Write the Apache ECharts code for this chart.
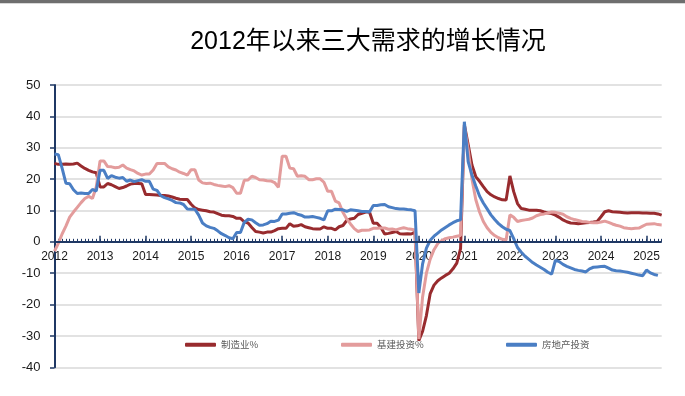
<!DOCTYPE html>
<html>
<head>
<meta charset="utf-8">
<script src="https://cdn.jsdelivr.net/npm/echarts@6/dist/echarts.min.js"></script>
<style>
html,body{margin:0;padding:0;background:#fff;}
#c{width:685px;height:396px;}
</style>
</head>
<body>
<div id="c"></div>
<script>
// Month categories Jan 2012 .. May 2025
const years = [2012,2013,2014,2015,2016,2017,2018,2019,2020,2021,2022,2023,2024,2025];
const months = [];
years.forEach(function(y){ for (let m = 1; m <= 12; m++) { if (y === 2025 && m > 5) break; months.push(y + '-' + (m < 10 ? '0' + m : m)); } });

const seriesNames = ['制造业%', '基建投资%', '房地产投资'];

// 制造业%
const manufacturing = [
  25.0, 24.7, 24.7, 24.8, 24.7, 24.8, 25.1, 24.2, 23.4, 22.8, 22.3, 22.0,
  17.5, 17.5, 18.6, 18.2, 17.6, 17.0, 17.3, 17.8, 18.4, 18.6, 18.6, 18.5,
  15.1, 15.1, 15.0, 14.9, 14.8, 14.8, 14.6, 14.3, 13.9, 13.6, 13.5, 13.5,
  12.0, 10.8, 10.3, 10.1, 9.9, 9.6, 9.5, 9.0, 8.5, 8.3, 8.3, 8.1,
  7.5, 7.5, 6.4, 6.0, 4.6, 3.3, 3.1, 2.8, 3.1, 3.1, 3.6, 4.2,
  4.3, 4.3, 5.8, 5.0, 5.1, 5.5, 4.8, 4.5, 4.2, 4.1, 4.1, 4.8,
  4.3, 4.3, 3.8, 4.8, 5.2, 6.8, 7.3, 7.5, 8.7, 9.1, 9.5, 9.5,
  5.9, 5.9, 4.6, 2.5, 2.7, 3.0, 3.3, 2.6, 2.5, 2.6, 2.5, 3.1,
  -31.5, -28.5, -23.5, -16.5, -13.8, -12.4, -11.5, -10.7, -10.0, -8.6, -6.8, -2.2,
  37.3, 31.0, 24.5, 20.8, 19.3, 17.6, 16.0, 15.0, 14.3, 13.8, 13.4, 13.3,
  21.0, 16.0, 12.2, 10.6, 10.4, 10.1, 10.1, 10.1, 9.9, 9.5, 9.2, 9.0,
  8.5, 7.8, 7.0, 6.4, 6.0, 5.9, 5.8, 5.9, 6.1, 6.2, 6.3, 6.5,
  8.0, 9.6, 9.9, 9.6, 9.5, 9.4, 9.3, 9.2, 9.3, 9.3, 9.3, 9.2,
  9.2, 9.1, 9.1, 8.9, 8.5
];

// 基建投资%
const infrastructure = [
  -3.0, -0.5, 2.5, 5.0, 7.9, 9.5, 11.0, 12.5, 13.8, 14.5, 13.8, 17.5,
  25.8, 25.8, 24.0, 23.9, 23.6, 23.8, 24.5, 23.5, 23.0, 22.6, 21.8, 21.3,
  21.6, 21.6, 22.9, 25.0, 25.0, 25.0, 23.9, 23.3, 22.9, 22.2, 21.8, 21.3,
  23.0, 23.0, 19.7, 18.8, 18.6, 18.7, 18.3, 18.0, 17.8, 17.6, 17.9, 17.3,
  15.5, 15.5, 19.6, 19.7, 20.9, 20.5, 19.8, 19.7, 19.5, 19.4, 18.9, 17.4,
  27.3, 27.3, 23.5, 23.3, 20.9, 21.1, 20.9, 19.8, 19.8, 20.1, 20.1, 19.0,
  16.1, 16.1, 13.0, 12.4, 9.4, 7.3, 5.7, 4.2, 3.3, 3.7, 3.7, 3.8,
  4.3, 4.3, 4.4, 4.4, 4.0, 4.1, 3.8, 4.2, 4.5, 4.2, 4.0, 3.8,
  -31.0, -17.5, -10.0, -5.5, -2.5, -0.5, 0.4, 1.0, 1.3, 1.5, 1.8, 2.0,
  36.6, 29.5, 20.0, 13.5, 9.5, 6.5, 4.5, 3.0, 2.0, 1.3, 0.8, 0.6,
  8.6, 7.8, 6.5, 6.8, 7.0, 7.2, 7.6, 8.3, 8.7, 8.9, 9.2, 9.5,
  9.4, 9.1, 8.8, 8.0, 7.5, 7.1, 6.8, 6.5, 6.4, 6.2, 6.1, 6.1,
  6.3, 6.6, 6.2, 5.7, 5.3, 5.0, 4.5, 4.3, 4.2, 4.3, 4.4, 5.0,
  5.6, 5.7, 5.8, 5.5, 5.4
];

// 房地产投资
const realEstate = [
  28.0, 27.8, 23.5, 18.7, 18.5, 16.6, 15.4, 15.6, 15.4, 15.4, 16.7, 16.2,
  22.8, 22.8, 20.2, 21.1, 20.6, 20.3, 20.5, 19.3, 19.7, 19.2, 19.5, 19.8,
  19.3, 19.3, 16.8, 16.4, 14.7, 14.1, 13.7, 13.2, 12.5, 12.4, 11.9, 10.5,
  10.4, 10.4, 8.5, 6.0, 5.1, 4.6, 4.3, 3.5, 2.6, 2.0, 1.3, 1.0,
  3.0, 3.0, 6.2, 7.2, 7.0, 6.1, 5.3, 5.4, 5.8, 6.6, 6.5, 6.9,
  8.9, 8.9, 9.1, 9.3, 8.8, 8.5, 7.9, 7.9, 8.1, 7.8, 7.5, 7.0,
  9.9, 9.9, 10.4, 10.3, 10.2, 9.7, 10.2, 10.1, 9.9, 9.7, 9.7, 9.5,
  11.6, 11.6, 11.8, 11.9, 11.2, 10.9, 10.6, 10.5, 10.5, 10.3, 10.2, 9.9,
  -16.3, -7.0, -2.0, 0.5, 1.8, 2.8, 3.8, 4.6, 5.4, 6.1, 6.7, 7.0,
  38.3, 25.6, 21.3, 17.8, 14.6, 12.4, 10.5, 8.6, 7.1, 5.8, 4.8, 4.0,
  3.6, 1.0, -1.8, -3.3, -4.6, -5.6, -6.6, -7.4, -8.1, -8.8, -9.7, -10.3,
  -5.8, -6.3, -7.2, -7.8, -8.3, -8.8, -9.1, -9.3, -9.6, -8.6, -8.1, -8.0,
  -7.9, -7.8, -8.4, -9.0, -9.2, -9.3, -9.5, -9.7, -10.0, -10.3, -10.6, -10.8,
  -9.0, -9.9, -10.4, -10.7, null
];

const yTicks = { min: -40, max: 50, step: 10 };
const colors = ['#982B2E', '#E39C9C', '#4A7EC4'];

const chart = echarts.init(document.getElementById('c'), null, { renderer: 'canvas' });
const navy = '#1F3864';
const isJan = function (idx, val) { return /-01$/.test(val); };
const legendCommon = {
  orient: 'horizontal', top: 340, padding: 0, itemWidth: 31, itemHeight: 4, icon: 'roundRect',
  itemGap: 4, textStyle: { fontSize: 9.5, color: '#595959', fontFamily: "'Noto Sans CJK SC', sans-serif" }
};
// plot box
const W = 685, H = 396;
const gridBox = { left: 54.5, right: 23.3, top: 85, bottom: 28.7, containLabel: false };
// the year-label strip ends where the value axis crosses zero
const zeroFrac = yTicks.max / (yTicks.max - yTicks.min);
const plotH = H - gridBox.top - gridBox.bottom;
const labelBox = { left: gridBox.left, right: gridBox.right, top: gridBox.top, bottom: H - (gridBox.top + plotH * zeroFrac), containLabel: false };
const hiddenY = function (gi) {
  return { type: 'value', gridIndex: gi, min: yTicks.min, max: yTicks.max, interval: yTicks.step,
    axisLine: { show: false }, axisTick: { show: false }, axisLabel: { show: false }, splitLine: { show: false } };
};
chart.setOption({
  animation: false,
  backgroundColor: '#ffffff',
  color: colors,
  title: {
    text: '2012年以来三大需求的增长情况',
    left: 368, top: 30, padding: 0, textAlign: 'center',
    textStyle: { fontSize: 25, fontWeight: 'normal', color: '#000000', fontFamily: "'Liberation Sans', 'Noto Sans CJK SC', sans-serif" }
  },
  legend: [
    Object.assign({ data: [seriesNames[0]], left: 185 }, legendCommon),
    Object.assign({ data: [seriesNames[1]], left: 341 }, legendCommon),
    Object.assign({ data: [seriesNames[2]], left: 506 }, legendCommon)
  ],
  graphic: [
    { type: 'rect', shape: { x: 0, y: 0, width: W, height: 3 }, style: { fill: '#6e6e6e' }, silent: true },
    { type: 'rect', shape: { x: 0, y: 3, width: W, height: 1 }, style: { fill: '#d8d8d8' }, silent: true }
  ],
  grid: [Object.assign({}, gridBox), Object.assign({}, gridBox), Object.assign({}, gridBox), labelBox],
  xAxis: [
    { type: 'category', gridIndex: 0, data: months, boundaryGap: false, show: false },
    {
      type: 'category', gridIndex: 1, data: months, boundaryGap: false,
      axisLine: { show: false, onZero: true },
      axisTick: { show: true, inside: true, interval: 0, length: 3, lineStyle: { color: navy, width: 1 } },
      axisLabel: { show: false },
      splitLine: { show: false }
    },
    {
      type: 'category', gridIndex: 2, data: months, boundaryGap: false,
      axisLine: { show: false, onZero: true },
      axisTick: { show: true, inside: true, interval: isJan, length: 6, lineStyle: { color: navy, width: 1.5 } },
      axisLabel: { show: false },
      splitLine: { show: false }
    },
    {
      type: 'category', gridIndex: 3, data: months, boundaryGap: false, position: 'bottom',
      axisLine: { show: false, onZero: false },
      axisTick: { show: false },
      axisLabel: {
        show: true, interval: isJan, margin: 9, fontSize: 12, color: '#1a1a1a',
        fontFamily: "'Liberation Sans', Arial, sans-serif",
        formatter: function (v) { return v.slice(0, 4); }
      },
      splitLine: { show: false }
    }
  ],
  yAxis: [
    {
      type: 'value', gridIndex: 0, min: yTicks.min, max: yTicks.max, interval: yTicks.step,
      axisLine: { show: true, lineStyle: { color: navy, width: 2 } },
      axisTick: { show: true, inside: false, length: 4.5, lineStyle: { color: navy, width: 1.5 } },
      axisLabel: { margin: 14, fontSize: 13, color: '#1a1a1a', fontFamily: "'Liberation Sans', Arial, sans-serif" },
      splitLine: { show: true, lineStyle: { color: '#d9d9d9', width: 1.5 } }
    },
    hiddenY(1),
    hiddenY(2),
    { type: 'value', gridIndex: 3, min: 0, max: yTicks.max, show: false }
  ],
  series: [
    { name: seriesNames[0], type: 'line', xAxisIndex: 0, yAxisIndex: 0, data: manufacturing, symbol: 'none', connectNulls: true, lineStyle: { width: 3, color: colors[0] }, itemStyle: { color: colors[0] },
      markLine: { silent: true, symbol: 'none', label: { show: false }, animation: false,
        lineStyle: { color: navy, width: 2, type: 'solid' }, data: [{ yAxis: 0 }] } },
    { name: seriesNames[1], type: 'line', xAxisIndex: 0, yAxisIndex: 0, data: infrastructure, symbol: 'none', connectNulls: true, lineStyle: { width: 3, color: colors[1] }, itemStyle: { color: colors[1] } },
    { name: seriesNames[2], type: 'line', xAxisIndex: 0, yAxisIndex: 0, data: realEstate, symbol: 'none', connectNulls: false, lineStyle: { width: 3, color: colors[2] }, itemStyle: { color: colors[2] } }
  ]
});
</script>
</body>
</html>
